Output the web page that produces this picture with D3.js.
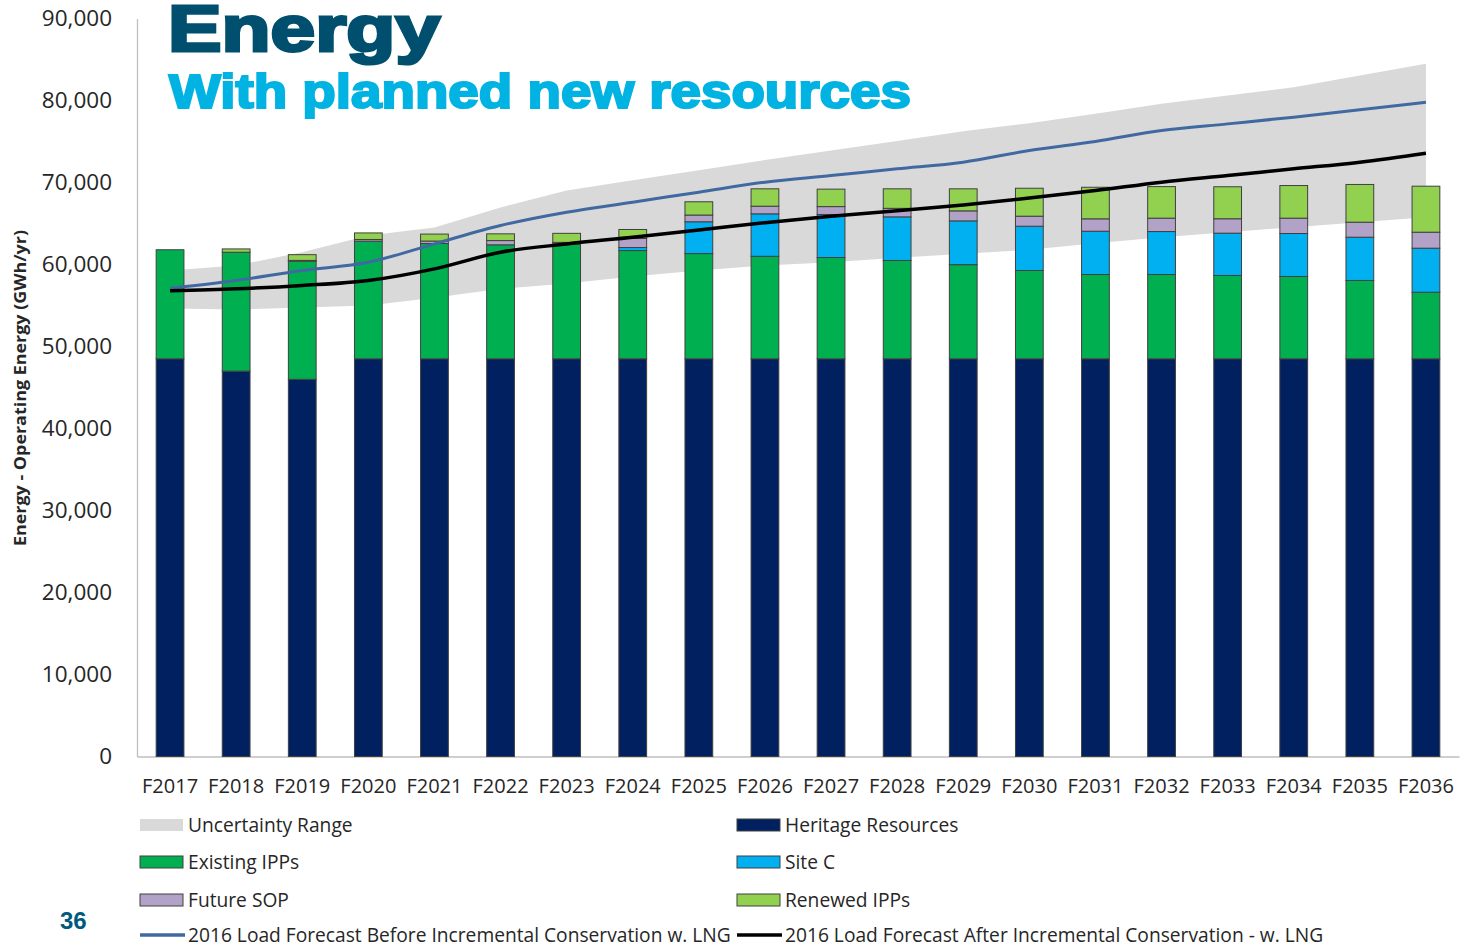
<!DOCTYPE html>
<html>
<head>
<meta charset="utf-8">
<script src="https://cdn.jsdelivr.net/npm/d3@7"></script>
<style>
  body { margin: 0; background: #fff; }
  svg { display: block; }
</style>
</head>
<body>
<svg id="chart" width="1460" height="950"></svg>
<script>
const years = ["F2017", "F2018", "F2019", "F2020", "F2021", "F2022", "F2023", "F2024", "F2025", "F2026",
  "F2027", "F2028", "F2029", "F2030", "F2031", "F2032", "F2033", "F2034", "F2035", "F2036"];

// stacked resources, GWh/yr
const heritage = [48500, 47000, 46000, 48500, 48500, 48500, 48500, 48500, 48500, 48500,
  48500, 48500, 48500, 48500, 48500, 48500, 48500, 48500, 48500, 48500];
const existingIPPs = [13300, 14500, 14400, 14350, 14060, 13900, 14000, 13200, 12830, 12500,
  12350, 11990, 11480, 10770, 10280, 10280, 10160, 10040, 9550, 8120];
const siteC = [0, 0, 0, 0, 0, 0, 0, 370, 3880, 5180,
  5250, 5320, 5340, 5400, 5280, 5240, 5160, 5240, 5280, 5370];
const futureSOP = [0, 0, 100, 200, 300, 520, 200, 1100, 820, 930,
  960, 1040, 1220, 1220, 1510, 1630, 1760, 1870, 1830, 1950];
const renewedIPPs = [0, 400, 700, 800, 850, 820, 1100, 1100, 1620, 2120,
  2130, 2380, 2690, 3410, 3850, 3850, 3900, 3980, 4600, 5610];

// load forecasts and uncertainty range
const forecastBefore = [57100, 58050, 59270, 60280, 62520, 64760, 66380, 67600, 68820, 70040,
  70850, 71670, 72480, 73900, 75000, 76340, 77150, 77970, 78860, 79790];
const forecastAfter = [56800, 57030, 57440, 58050, 59470, 61500, 62500, 63330, 64200, 65100,
  65870, 66550, 67260, 68100, 69020, 70040, 70850, 71670, 72480, 73570];
const rangeLow = [54630, 54510, 54760, 55000, 55940, 57030, 57680, 58540, 59270, 59880,
  60280, 60820, 61300, 61790, 62600, 63330, 63940, 64550, 65160, 65770];
const rangeHigh = [59270, 59880, 61500, 63540, 64500, 66950, 69020, 70260, 71500, 72730,
  73900, 75070, 76240, 77230, 78370, 79590, 80610, 81620, 83050, 84470];

const yTicks = [0, 10000, 20000, 30000, 40000, 50000, 60000, 70000, 80000, 90000];

const seriesKeys = ["heritage", "existing", "siteC", "sop", "renewed"];
const seriesColor = {
  heritage: "#002060",
  existing: "#00B050",
  siteC: "#00B0F0",
  sop: "#B3A2C7",
  renewed: "#92D050"
};

const rows = years.map((y, i) => ({
  year: y,
  heritage: heritage[i],
  existing: existingIPPs[i],
  siteC: siteC[i],
  sop: futureSOP[i],
  renewed: renewedIPPs[i],
  before: forecastBefore[i],
  after: forecastAfter[i],
  low: rangeLow[i],
  high: rangeHigh[i]
}));

const svg = d3.select("#chart");

const x = d3.scaleBand()
  .domain(years)
  .range([137, 1459])
  .paddingInner(0.58)
  .paddingOuter(0.29);

const y = d3.scaleLinear()
  .domain([0, 90000])
  .range([756.5, 18.5]);

const cx = d => x(d.year) + x.bandwidth() / 2;

// uncertainty band (behind the bars)
svg.append("path")
  .datum(rows)
  .attr("fill", "#D9D9D9")
  .attr("d", d3.area()
    .x(cx)
    .y0(d => y(d.low))
    .y1(d => y(d.high)));

// axes
const yAxis = svg.append("g")
  .attr("transform", "translate(137,0)")
  .call(d3.axisLeft(y).tickValues(yTicks).tickSize(0).tickPadding(25).tickFormat(d3.format(",")));
yAxis.select(".domain").attr("stroke", "#BFBFBF").attr("stroke-width", 1.3);
yAxis.selectAll("text")
  .attr("font-family", "Open Sans")
  .attr("font-size", 22.5)
  .attr("fill", "#262626");

const xAxis = svg.append("g")
  .attr("transform", "translate(0,756.5)")
  .call(d3.axisBottom(x).tickSize(0).tickPadding(22));
xAxis.select(".domain").attr("stroke", "#BFBFBF").attr("stroke-width", 1.3);
xAxis.selectAll("text")
  .attr("font-family", "Open Sans")
  .attr("font-size", 20)
  .attr("fill", "#262626");

// stacked bars
const stacked = d3.stack().keys(seriesKeys)(rows);
svg.append("g")
  .selectAll("g")
  .data(stacked)
  .join("g")
  .attr("fill", s => seriesColor[s.key])
  .selectAll("rect")
  .data(s => s.filter(d => d[1] - d[0] > 0))
  .join("rect")
  .attr("x", d => x(d.data.year))
  .attr("width", x.bandwidth())
  .attr("y", d => y(d[1]))
  .attr("height", d => y(d[0]) - y(d[1]))
  .attr("stroke", "#404040")
  .attr("stroke-width", 1);

// load forecast lines
const line = key => d3.line().x(cx).y(d => y(d[key])).curve(d3.curveMonotoneX);
svg.append("path")
  .datum(rows)
  .attr("fill", "none")
  .attr("stroke", "#4169A1")
  .attr("stroke-width", 3)
  .attr("d", line("before"));
svg.append("path")
  .datum(rows)
  .attr("fill", "none")
  .attr("stroke", "#000")
  .attr("stroke-width", 3.5)
  .attr("d", line("after"));

// y axis title
svg.append("text")
  .attr("transform", "translate(26,388) rotate(-90)")
  .attr("text-anchor", "middle")
  .attr("font-family", "Open Sans")
  .attr("font-weight", "bold")
  .attr("font-size", 15.5)
  .attr("textLength", 316)
  .attr("lengthAdjust", "spacingAndGlyphs")
  .attr("fill", "#262626")
  .text("Energy - Operating Energy (GWh/yr)");

// titles
svg.append("text")
  .attr("x", 168)
  .attr("y", 51)
  .attr("font-family", "Liberation Sans")
  .attr("font-weight", "bold")
  .attr("font-size", 64)
  .attr("fill", "#004F6E")
  .attr("stroke", "#004F6E")
  .attr("stroke-width", 3)
  .attr("textLength", 272)
  .attr("lengthAdjust", "spacingAndGlyphs")
  .text("Energy");

svg.append("text")
  .attr("x", 169)
  .attr("y", 108)
  .attr("font-family", "Liberation Sans")
  .attr("font-weight", "bold")
  .attr("font-size", 48)
  .attr("fill", "#00B3E3")
  .attr("stroke", "#00B3E3")
  .attr("stroke-width", 2.2)
  .attr("textLength", 742)
  .attr("lengthAdjust", "spacingAndGlyphs")
  .text("With planned new resources");

// legend
const legendItems = [
  { label: "Uncertainty Range", type: "area", color: "#D9D9D9", col: 0, row: 0 },
  { label: "Heritage Resources", type: "rect", color: seriesColor.heritage, col: 1, row: 0 },
  { label: "Existing IPPs", type: "rect", color: seriesColor.existing, col: 0, row: 1 },
  { label: "Site C", type: "rect", color: seriesColor.siteC, col: 1, row: 1 },
  { label: "Future SOP", type: "rect", color: seriesColor.sop, col: 0, row: 2 },
  { label: "Renewed IPPs", type: "rect", color: seriesColor.renewed, col: 1, row: 2 },
  { label: "2016 Load Forecast Before Incremental Conservation w. LNG", type: "line", color: "#4169A1", col: 0, row: 3 },
  { label: "2016 Load Forecast After Incremental Conservation - w. LNG", type: "line", color: "#000", col: 1, row: 3 }
];
const legendColX = [140, 737];
const legendRowY = [825, 862, 900, 935];

const legend = svg.append("g")
  .selectAll("g")
  .data(legendItems)
  .join("g")
  .attr("transform", d => `translate(${legendColX[d.col]},${legendRowY[d.row]})`);

legend.filter(d => d.type !== "line")
  .append("rect")
  .attr("x", 0)
  .attr("y", -6)
  .attr("width", 43)
  .attr("height", 12)
  .attr("fill", d => d.color)
  .attr("stroke", d => d.type === "rect" ? "#404040" : "none")
  .attr("stroke-width", 1);

legend.filter(d => d.type === "line")
  .append("line")
  .attr("x1", 0)
  .attr("x2", 45)
  .attr("y1", 0)
  .attr("y2", 0)
  .attr("stroke", d => d.color)
  .attr("stroke-width", 3.5);

legend.append("text")
  .attr("x", 48)
  .attr("y", 0)
  .attr("dy", "0.35em")
  .attr("font-family", "Open Sans")
  .attr("font-size", 19.2)
  .attr("fill", "#262626")
  .text(d => d.label);

// page number
svg.append("text")
  .attr("x", 60)
  .attr("y", 929)
  .attr("font-family", "Liberation Sans")
  .attr("font-weight", "bold")
  .attr("font-size", 24)
  .attr("fill", "#005A7D")
  .text("36");
</script>
</body>
</html>
